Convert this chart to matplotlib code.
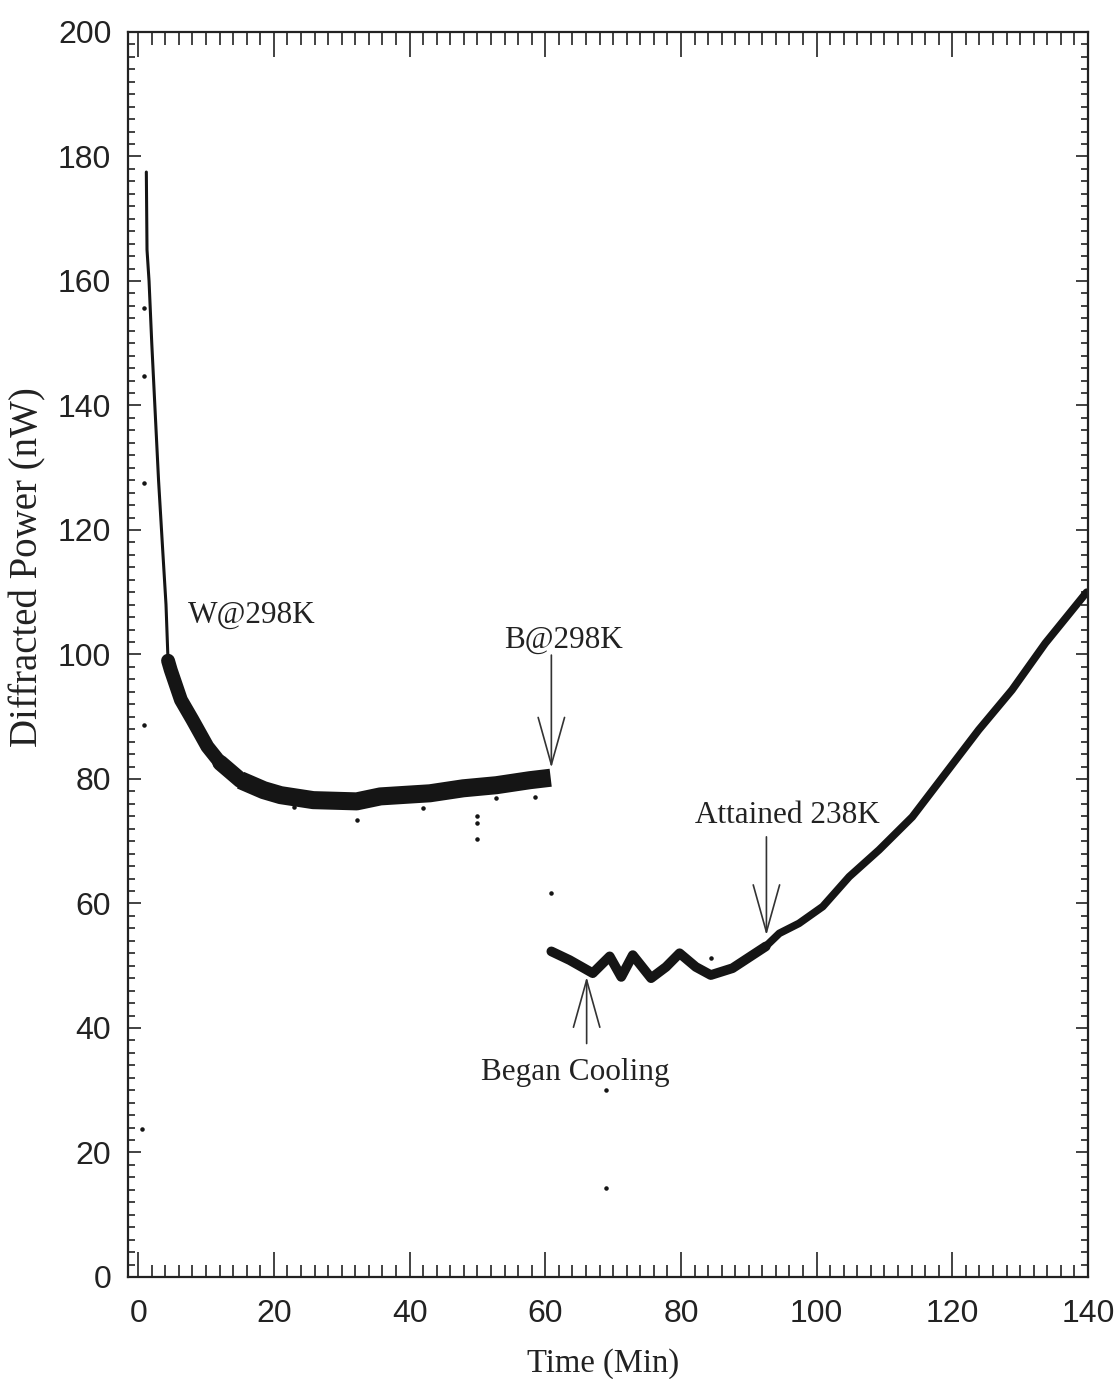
import matplotlib
matplotlib.use("Agg")
import matplotlib.pyplot as plt
from matplotlib.ticker import MultipleLocator

# steep start (sparse points right after the beam was switched on)
start_t = [1.2, 1.3, 1.6, 2.0, 2.5, 3.0, 3.6, 4.1, 4.4]
start_p = [177.5, 165.0, 160.0, 150.0, 139.0, 128.0, 117.0, 108.0, 99.0]

# decay at 298 K
early_t = [4.4, 4.8, 6.3, 8.0, 10.2, 12.1, 15.1]
early_p = [99.0, 97.5, 92.7, 89.5, 85.2, 82.6, 79.8]
flat_t = [12.1, 15.1, 18.5, 21.0, 25.8, 32.2, 35.7, 43.0, 47.9, 52.8, 57.7, 60.8]
flat_p = [82.6, 79.8, 78.2, 77.4, 76.6, 76.4, 77.2, 77.7, 78.5, 79.0, 79.8, 80.2]

# after the jump: cooling wiggles
cool_t = [60.9, 63.6, 67.0, 69.5, 71.2, 72.9, 75.6, 77.8, 79.8, 82.2, 84.4, 87.6, 92.5]
cool_p = [52.3, 50.9, 48.8, 51.5, 48.2, 51.7, 48.0, 49.8, 52.0, 49.8, 48.5, 49.6, 53.1]

# rise after 238 K reached
rise_t = [92.5, 94.5, 97.4, 100.9, 104.8, 109.2, 114.1, 119.0, 123.9, 128.8, 133.7, 139.8]
rise_p = [53.1, 55.2, 56.8, 59.5, 64.3, 68.6, 73.9, 80.9, 87.9, 94.3, 101.8, 110.0]

# stray points
stray_t = [0.85, 0.85, 0.85, 0.9, 0.6, 32.2, 49.9, 49.9, 49.9, 22.9, 42.0, 52.8, 58.5, 60.8, 69.0, 69.0, 84.4]
stray_p = [155.6, 144.7, 127.5, 88.6, 23.8, 73.4, 74.0, 72.9, 70.3, 75.5, 75.3, 77.0, 77.1, 61.7, 30.0, 14.3, 51.2]

fig = plt.figure(figsize=(11.19, 13.79), dpi=100)
ax = fig.add_axes([0.1144, 0.074, 0.8579, 0.9028])

ink = '#151515'
ax.plot(start_t, start_p, color=ink, lw=2.2, solid_capstyle='round')
ax.plot(early_t, early_p, color=ink, lw=10, solid_capstyle='round', solid_joinstyle='round')
ax.plot(flat_t[1:], flat_p[1:], color=ink, lw=13, solid_capstyle='butt', solid_joinstyle='round')
ax.plot(flat_t[:3], flat_p[:3], color=ink, lw=11.5, solid_capstyle='round', solid_joinstyle='round')
ax.plot(cool_t, cool_p, color=ink, lw=7, solid_capstyle='round', solid_joinstyle='round')
ax.plot(rise_t, rise_p, color=ink, lw=5.5, solid_capstyle='round', solid_joinstyle='round')
ax.scatter(stray_t, stray_p, s=5, color=ink, zorder=3)

ax.set_xlim(-1.5, 140)
ax.set_ylim(0, 200)
ax.xaxis.set_major_locator(MultipleLocator(20))
ax.xaxis.set_minor_locator(MultipleLocator(2))
ax.yaxis.set_major_locator(MultipleLocator(20))
ax.yaxis.set_minor_locator(MultipleLocator(2))

ax.tick_params(axis='both', which='both', direction='in', top=True, right=True, width=1.2, color='#222222')
ax.tick_params(axis='x', which='major', length=18, pad=16)
ax.tick_params(axis='x', which='minor', length=9)
ax.tick_params(axis='y', which='major', length=9, pad=12)
ax.tick_params(axis='y', which='minor', length=5)
for lab in ax.get_xticklabels() + ax.get_yticklabels():
    lab.set_fontfamily('Liberation Sans')
    lab.set_fontsize(23)
    lab.set_color('#222222')
for sp in ax.spines.values():
    sp.set_linewidth(1.6)
    sp.set_color('#222222')

serif = 'Liberation Serif'
fig.text(0.539, 0.005, 'Time (Min)', ha='center', va='baseline', family=serif, fontsize=23.5, color='#222222')
fig.text(0.025, 0.589, 'Diffracted Power (nW)', ha='center', va='center', rotation=90,
         family=serif, fontsize=28, color='#222222')

ax.text(7.3, 105.1, 'W@298K', ha='left', va='baseline', family=serif, fontsize=22.5, color='#222222')
ax.text(54.0, 101.0, 'B@298K', ha='left', va='baseline', family=serif, fontsize=22.5, color='#222222')
ax.text(82.0, 72.9, 'Attained 238K', ha='left', va='baseline', family=serif, fontsize=22.5, color='#222222')
ax.text(50.6, 31.6, 'Began Cooling', ha='left', va='baseline', family=serif, fontsize=22.5, color='#222222')

arrow_style = '->, head_length=34, head_width=9.5'
for tip, tail in [((60.9, 81.8), (60.9, 99.9)),
                  ((92.6, 54.9), (92.6, 70.7)),
                  ((66.1, 48.2), (66.1, 37.5))]:
    ax.annotate('', xy=tip, xytext=tail,
                arrowprops=dict(arrowstyle=arrow_style, mutation_scale=1, lw=1.2,
                                color='#333333', shrinkA=0, shrinkB=0))

fig.savefig('out.png', dpi=100)
